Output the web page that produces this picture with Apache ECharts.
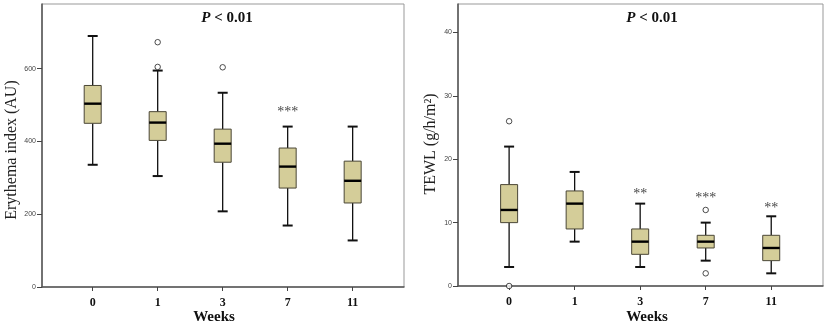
<!DOCTYPE html>
<html>
<head>
<meta charset="utf-8">
<script src="https://cdn.jsdelivr.net/npm/echarts@6/dist/echarts.min.js"></script>
<style>
  html, body { margin: 0; padding: 0; background: #fff; }
  #chart { width: 825px; height: 325px; }
</style>
</head>
<body>
<div id="chart"></div>
<script>
// categories (weeks)
const weeks = ["0", "1", "3", "7", "11"];

// Erythema index: [low whisker, Q1, median, Q3, high whisker]
const erythemaBoxes = [
  [336, 450, 504, 554, 690],
  [305, 403, 452, 482, 595],
  [208, 343, 394, 434, 534],
  [169, 272, 331, 382, 441],
  [128, 231, 292, 346, 441]
];
// outliers: [week index, value]
const erythemaOutliers = [[1, 605], [1, 673], [2, 604]];
const erythemaStars = ["", "", "", "***", ""];
const erythemaStarAt = [0, 0, 0, 480, 0];
const erythemaTicks = [0, 200, 400, 600];

// TEWL
const tewlBoxes = [
  [3, 10, 12, 16, 22],
  [7, 9, 13, 15, 18],
  [3, 5, 7, 9, 13],
  [4, 6, 7, 8, 10],
  [2, 4, 6, 8, 11]
];
const tewlOutliers = [[0, 26], [0, 0], [3, 12], [3, 2]];
const tewlStars = ["", "", "**", "***", "**"];
const tewlStarAt = [0, 0, 14.4, 13.9, 12.3];
const tewlTicks = [0, 10, 20, 30, 40];

const serif = "'Liberation Serif', 'Times New Roman', serif";
const sans = "'Liberation Sans', Arial, sans-serif";

const chart = echarts.init(document.getElementById("chart"));

function renderBox(params, api) {
  const x = api.value(0);
  const pLow = api.coord([x, api.value(1)]);
  const pQ1 = api.coord([x, api.value(2)]);
  const pMed = api.coord([x, api.value(3)]);
  const pQ3 = api.coord([x, api.value(4)]);
  const pHigh = api.coord([x, api.value(5)]);
  const half = 8.5, cap = 5;
  const whisker = { stroke: "#111", lineWidth: 1.3 };
  const capStyle = { stroke: "#111", lineWidth: 2 };
  return {
    type: "group",
    children: [
      { type: "line", shape: { x1: pHigh[0], y1: pHigh[1], x2: pQ3[0], y2: pQ3[1] }, style: whisker },
      { type: "line", shape: { x1: pLow[0], y1: pLow[1], x2: pQ1[0], y2: pQ1[1] }, style: whisker },
      { type: "line", shape: { x1: pHigh[0] - cap, y1: pHigh[1], x2: pHigh[0] + cap, y2: pHigh[1] }, style: capStyle },
      { type: "line", shape: { x1: pLow[0] - cap, y1: pLow[1], x2: pLow[0] + cap, y2: pLow[1] }, style: capStyle },
      {
        type: "rect",
        shape: { x: pQ3[0] - half, y: pQ3[1], width: half * 2, height: pQ1[1] - pQ3[1] },
        style: { fill: "#d4cd99", stroke: "#4a4636", lineWidth: 1 }
      },
      { type: "line", shape: { x1: pMed[0] - half, y1: pMed[1], x2: pMed[0] + half, y2: pMed[1] }, style: { stroke: "#000", lineWidth: 2.4 } }
    ]
  };
}

function boxSeries(boxes, idx) {
  return {
    type: "custom",
    xAxisIndex: idx,
    yAxisIndex: idx,
    renderItem: renderBox,
    encode: { x: 0, y: [1, 2, 3, 4, 5] },
    data: boxes.map((b, i) => [i].concat(b)),
    silent: true,
    z: 3
  };
}

function outlierSeries(points, idx) {
  return {
    type: "scatter",
    xAxisIndex: idx,
    yAxisIndex: idx,
    symbol: "circle",
    symbolSize: 5.5,
    itemStyle: { color: "#fff", borderColor: "#222", borderWidth: 1 },
    data: points,
    silent: true,
    z: 4
  };
}

function starSeries(stars, at, idx) {
  const items = [];
  stars.forEach((s, i) => {
    if (s) items.push({ value: [i, at[i]], name: s });
  });
  return {
    type: "scatter",
    xAxisIndex: idx,
    yAxisIndex: idx,
    symbolSize: 0,
    label: {
      show: true,
      position: "inside",
      formatter: p => p.name,
      fontFamily: serif,
      fontSize: 14,
      color: "#111"
    },
    data: items,
    silent: true,
    z: 5
  };
}

function xAxisFor(idx) {
  return {
    type: "value",
    gridIndex: idx,
    min: -0.78,
    max: 4.79,
    splitLine: { show: false },
    axisLine: { show: true, onZero: false, lineStyle: { color: "#555", width: 1.5 } },
    axisTick: { show: true, inside: false, length: 4, customValues: [0, 1, 2, 3, 4], lineStyle: { color: "#444" } },
    axisLabel: {
      customValues: [0, 1, 2, 3, 4],
      formatter: v => weeks[Math.round(v)],
      fontFamily: serif,
      fontWeight: "bold",
      fontSize: 12,
      color: "#111",
      margin: 10
    }
  };
}

function yAxisFor(idx, max, ticks) {
  return {
    type: "value",
    gridIndex: idx,
    min: 0,
    max: max,
    splitLine: { show: false },
    axisLine: { show: true, onZero: false, lineStyle: { color: "#555", width: 1.5 } },
    axisTick: { show: true, length: 5, customValues: ticks, lineStyle: { color: "#444" } },
    axisLabel: {
      customValues: ticks,
      fontFamily: sans,
      fontSize: 7,
      color: "#444",
      margin: 6
    }
  };
}

const option = {
  animation: false,
  backgroundColor: "#fff",
  grid: [
    { left: 42, top: 4, width: 362, height: 283, show: true, borderColor: "#999", borderWidth: 1 },
    { left: 458, top: 4, width: 365, height: 282, show: true, borderColor: "#999", borderWidth: 1 }
  ],
  xAxis: [xAxisFor(0), xAxisFor(1)],
  yAxis: [yAxisFor(0, 778, erythemaTicks), yAxisFor(1, 44.5, tewlTicks)],
  series: [
    boxSeries(erythemaBoxes, 0),
    outlierSeries(erythemaOutliers, 0),
    starSeries(erythemaStars, erythemaStarAt, 0),
    boxSeries(tewlBoxes, 1),
    outlierSeries(tewlOutliers, 1),
    starSeries(tewlStars, tewlStarAt, 1)
  ],
  graphic: [
    {
      type: "text", x: 227, y: 18,
      style: {
        text: "{i|P} < 0.01", align: "center", verticalAlign: "middle",
        font: "bold 15px " + serif, fill: "#111",
        rich: { i: { fontStyle: "italic", fontWeight: "bold", fontSize: 15, fontFamily: serif, fill: "#111" } }
      }
    },
    {
      type: "text", x: 652, y: 18,
      style: {
        text: "{i|P} < 0.01", align: "center", verticalAlign: "middle",
        font: "bold 15px " + serif, fill: "#111",
        rich: { i: { fontStyle: "italic", fontWeight: "bold", fontSize: 15, fontFamily: serif, fill: "#111" } }
      }
    },
    {
      type: "text", x: 214, y: 317,
      style: { text: "Weeks", align: "center", verticalAlign: "middle", font: "bold 15px " + serif, fill: "#111" }
    },
    {
      type: "text", x: 647, y: 317,
      style: { text: "Weeks", align: "center", verticalAlign: "middle", font: "bold 15px " + serif, fill: "#111" }
    },
    {
      type: "text", x: 12, y: 150, rotation: Math.PI / 2,
      style: { text: "Erythema index (AU)", align: "center", verticalAlign: "middle", font: "16px " + serif, fill: "#222" }
    },
    {
      type: "text", x: 431, y: 144, rotation: Math.PI / 2,
      style: { text: "TEWL (g/h/m²)", align: "center", verticalAlign: "middle", font: "16px " + serif, fill: "#222" }
    }
  ]
};

chart.setOption(option);
window.addEventListener("resize", () => chart.resize());
</script>
</body>
</html>
